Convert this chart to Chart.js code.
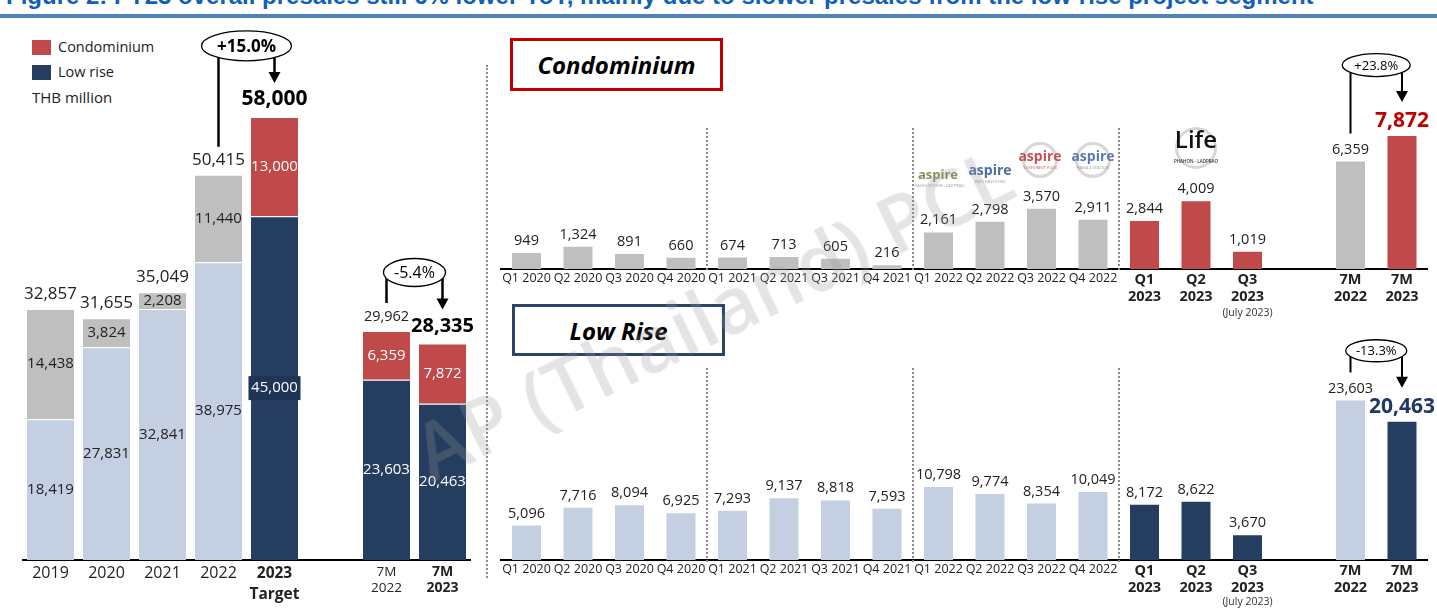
<!DOCTYPE html>
<html>
<head>
<meta charset="utf-8">
<script src="https://cdn.jsdelivr.net/npm/chart.js@4.4.1/dist/chart.umd.min.js"></script>
<style>
  html, body { margin: 0; padding: 0; background: #fff; }
  body { width: 1437px; height: 608px; position: relative; overflow: hidden; font-family: 'Open Sans', sans-serif; color: #222; }
  .abs { position: absolute; }
  #title { left: 6px; top: -16px; font: bold 24px 'Liberation Sans', Arial, sans-serif; line-height: 24px; color: #1160b7; white-space: nowrap; }
  #rule { left: 0; top: 14px; width: 1437px; height: 4px; background: #4f81bd; }
  .sw { left: 32px; width: 19px; height: 15px; }
  .lg { left: 58px; font-size: 14.5px; line-height: 18px; }
  .box { box-sizing: border-box; display: flex; align-items: center; justify-content: center; font-weight: bold; font-style: italic; font-size: 24px; color: #000; background: #fff; }
  #divider { left: 486px; top: 65px; height: 513px; border-left: 2px dotted #8c8c8c; }
  .logo { transform: translate(-50%, -50%); white-space: nowrap; font-weight: bold; text-align: center; }
  .ring { border: 3px solid rgba(140,140,140,0.35); border-radius: 50%; transform: translate(-50%, -50%); }
  #watermark { left: 712px; top: 312px; transform: translate(-50%, -50%) rotate(-26deg); font-size: 78px; font-weight: 600; color: rgba(150,150,150,0.26); white-space: nowrap; pointer-events: none; }
</style>
</head>
<body>
<div id="title" class="abs">Figure 2: FY23 overall presales still 6% lower YoY, mainly due to slower presales from the low-rise project segment</div>
<div id="rule" class="abs"></div>

<div class="abs sw" style="top:40px;background:#c0494a"></div>
<div class="abs lg" style="top:38px">Condominium</div>
<div class="abs sw" style="top:65px;background:#253d5e"></div>
<div class="abs lg" style="top:63px">Low rise</div>
<div class="abs" style="left:32px;top:87px;font-size:15px;line-height:20px">THB million</div>

<canvas id="yearChart" class="abs" style="left:0;top:20px" width="480" height="588"></canvas>
<div id="divider" class="abs"></div>
<canvas id="condoChart" class="abs" style="left:490px;top:30px" width="947" height="290"></canvas>
<canvas id="lowRiseChart" class="abs" style="left:490px;top:300px" width="947" height="308"></canvas>

<div class="abs box" style="left:510px;top:38px;width:213px;height:53px;border:3px solid #c00000">Condominium</div>
<div class="abs box" style="left:512px;top:304px;width:213px;height:52px;border:3px solid #2b4468">Low Rise</div>

<div class="abs logo" style="left:938px;top:176px;font-size:13px;color:#8b8c5e">aspire<div style="font-size:4px;color:#999;font-weight:normal">PHAHOLYOTHIN - LADPRAO</div></div>
<div class="abs logo" style="left:990px;top:172px;font-size:14px;color:#4a6da7">aspire<div style="font-size:4px;color:#999;font-weight:normal">RATCHAYOTHIN</div></div>
<div class="abs ring" style="left:1040px;top:160px;width:30px;height:30px"></div>
<div class="abs logo" style="left:1040px;top:158px;font-size:14px;color:#c9504f">aspire<div style="font-size:4px;color:#c9504f;font-weight:normal">SUKHUMVIT PLUS</div></div>
<div class="abs ring" style="left:1093px;top:160px;width:30px;height:30px"></div>
<div class="abs logo" style="left:1093px;top:158px;font-size:14px;color:#5b7bb0">aspire<div style="font-size:4px;color:#999;font-weight:normal">RAMA 4 STATION</div></div>
<div class="abs ring" style="left:1196px;top:148px;width:36px;height:36px"></div>
<div class="abs logo" style="left:1196px;top:150px;font-size:24px;color:#111;font-weight:600;line-height:22px">Life<div style="font-size:4.5px;color:#333">PHAHON - LADPRAO</div></div>

<div id="watermark" class="abs">AP (Thailand) PCL</div>

<script>
(function() {
  'use strict';

  // yearly presales, THB million
  var yearLabels = ['2019', '2020', '2021', '2022', ['2023', 'Target'], '', ['7M', '2022'], ['7M', '2023']];
  var yearLowRise = [18419, 27831, 32841, 38975, 45000, null, 23603, 20463];
  var yearCondo = [14438, 3824, 2208, 11440, 13000, null, 6359, 7872];
  var yearTotal = [32857, 31655, 35049, 50415, 58000, null, 29962, 28335];

  // quarterly presales, THB million
  var quarterLabels = ['Q1 2020', 'Q2 2020', 'Q3 2020', 'Q4 2020', 'Q1 2021', 'Q2 2021', 'Q3 2021', 'Q4 2021',
    'Q1 2022', 'Q2 2022', 'Q3 2022', 'Q4 2022', ['Q1', '2023'], ['Q2', '2023'], ['Q3', '2023'], '', ['7M', '2022'], ['7M', '2023']];
  var quarterCondo = [949, 1324, 891, 660, 674, 713, 605, 216, 2161, 2798, 3570, 2911, 2844, 4009, 1019, null, 6359, 7872];
  var quarterLowRise = [5096, 7716, 8094, 6925, 7293, 9137, 8818, 7593, 10798, 9774, 8354, 10049, 8172, 8622, 3670, null, 23603, 20463];

  var growthText = ['+15.0%', '-5.4%', '+23.8%', '-13.3%'];

  var LIGHT = '#c4cfe2', GRAY = '#bfbfbf', NAVY = '#253d5e', RED = '#c0494a';
  var FONT = "'Open Sans', sans-serif";

  function fmt(n) { return n.toLocaleString('en-US'); }

  function text(ctx, s, x, y, font, color, base) {
    ctx.font = font;
    ctx.fillStyle = color;
    ctx.textAlign = 'center';
    ctx.textBaseline = base || 'middle';
    ctx.fillText(s, x, y);
  }

  function bracket(ctx, xa, topA, xb, topB, label, st) {
    var endA = topA - 28, tip = topB - 34, cy = tip - 37, cx = (xa + xb) / 2;
    ctx.save();
    ctx.strokeStyle = '#000';
    ctx.fillStyle = '#000';
    ctx.lineWidth = st.lw;
    ctx.beginPath();
    ctx.moveTo(xa, cy); ctx.lineTo(xa, endA);
    ctx.moveTo(xb, cy); ctx.lineTo(xb, tip - 9);
    ctx.stroke();
    ctx.beginPath();
    ctx.moveTo(xb - 6, tip - 11); ctx.lineTo(xb + 6, tip - 11); ctx.lineTo(xb, tip);
    ctx.closePath(); ctx.fill();
    ctx.beginPath();
    ctx.ellipse(cx, cy, st.rx, st.ry, 0, 0, Math.PI * 2);
    ctx.fillStyle = '#fff'; ctx.fill();
    ctx.lineWidth = 1.3; ctx.stroke();
    text(ctx, label, cx, cy + 1, st.font, '#000');
    ctx.restore();
  }

  function xAxis(height, padding, fontFn) {
    return {
      stacked: true,
      grid: { display: false, drawTicks: false },
      border: { display: true, color: '#000', width: 2 },
      ticks: { autoSkip: false, maxRotation: 0, padding: padding, color: '#222', font: fontFn },
      afterFit: function(s) { s.height = height; }
    };
  }

  // ---- yearly stacked chart ----
  var yearPlugin = {
    id: 'yearLabels',
    afterDatasetsDraw: function(chart) {
      var ctx = chart.ctx;
      var low = chart.getDatasetMeta(0).data, condo = chart.getDatasetMeta(1).data;
      for (var i = 0; i < yearLabels.length; i++) {
        if (yearLowRise[i] == null) continue;
        var past = i < 4;
        var lb = low[i], cb = condo[i];
        var ly = (lb.y + lb.base) / 2, cy = (cb.y + cb.base) / 2;
        if (i === 4) {
          ctx.fillStyle = '#1e3557';
          ctx.fillRect(lb.x - 26, ly - 12, 52, 24);
        }
        text(ctx, fmt(yearLowRise[i]), lb.x, ly, '15px ' + FONT, past ? '#222' : '#fff');
        text(ctx, fmt(yearCondo[i]), cb.x, cy, '15px ' + FONT, past ? '#222' : '#fff');
        var bold = (i === 4 || i === 7);
        var f = bold ? 'bold ' + (i === 4 ? 21 : 20) + 'px ' + FONT : (i === 6 ? '14.5px ' : '17px ') + FONT;
        text(ctx, fmt(yearTotal[i]), cb.x, cb.y - (bold ? 12 : 10), f, bold ? '#000' : '#222', 'alphabetic');
      }
      bracket(ctx, condo[3].x, condo[3].y, condo[4].x, condo[4].y, growthText[0], { lw: 2.5, rx: 45, ry: 15, font: 'bold 17px ' + FONT });
      bracket(ctx, condo[6].x, condo[6].y, condo[7].x, condo[7].y, growthText[1], { lw: 2.5, rx: 31, ry: 14, font: '16px ' + FONT });
    }
  };

  new Chart(document.getElementById('yearChart').getContext('2d'), {
    type: 'bar',
    data: {
      labels: yearLabels,
      datasets: [{
        label: 'Low rise',
        data: yearLowRise,
        backgroundColor: yearLowRise.map(function(v, i) { return i < 4 ? LIGHT : NAVY; }),
        borderColor: '#fff', borderWidth: { top: 1 }
      }, {
        label: 'Condominium',
        data: yearCondo,
        backgroundColor: yearCondo.map(function(v, i) { return i < 4 ? GRAY : RED; }),
        borderColor: '#fff', borderWidth: { top: 1 }
      }]
    },
    options: {
      responsive: false,
      animation: false,
      layout: { padding: { top: 5.2, left: 22.5, right: 9.5, bottom: 0 } },
      datasets: { bar: { barPercentage: 0.84, categoryPercentage: 1 } },
      plugins: { legend: { display: false }, tooltip: { enabled: false } },
      scales: {
        x: xAxis(48, 4, function(c) {
          var i = c.index;
          if (i === 4) return { family: FONT, size: 15.5, weight: 'bold', lineHeight: 1.3 };
          if (i === 7) return { family: FONT, size: 14, weight: 'bold', lineHeight: 1.15 };
          if (i === 6) return { family: FONT, size: 13.5, lineHeight: 1.2 };
          return { family: FONT, size: 16 };
        }),
        y: { stacked: true, display: false, min: 0, max: 70000 }
      }
    },
    plugins: [yearPlugin]
  });

  // ---- quarterly charts ----
  function quarterChart(id, values, pastColor, nowColor, opt) {
    var plugin = {
      id: 'quarterLabels',
      afterDatasetsDraw: function(chart) {
        var ctx = chart.ctx, bars = chart.getDatasetMeta(0).data, xs = chart.scales.x, area = chart.chartArea;
        // dotted year separators
        ctx.save();
        ctx.strokeStyle = '#8a8a8a';
        ctx.lineWidth = 2;
        ctx.setLineDash([2, 2]);
        [4, 8, 12].forEach(function(i) {
          var x = Math.round((xs.getPixelForValue(i - 1) + xs.getPixelForValue(i)) / 2);
          ctx.beginPath();
          ctx.moveTo(x, opt.sepTop);
          ctx.lineTo(x, area.bottom + 2);
          ctx.stroke();
        });
        ctx.restore();
        for (var i = 0; i < values.length; i++) {
          if (values[i] == null) continue;
          var b = bars[i];
          if (i === 17) text(ctx, fmt(values[i]), b.x, b.y - 9, 'bold 21px ' + FONT, opt.boldColor, 'alphabetic');
          else text(ctx, fmt(values[i]), b.x, b.y - 8, '14.5px ' + FONT, '#222', 'alphabetic');
        }
        text(ctx, '(July 2023)', xs.getPixelForValue(14), area.bottom + opt.julyOffset, '10.5px ' + FONT, '#333');
        bracket(ctx, bars[16].x, bars[16].y, bars[17].x, bars[17].y, opt.growth, { lw: 2, rx: opt.rx, ry: opt.ry, font: '13px ' + FONT });
      }
    };
    return new Chart(document.getElementById(id).getContext('2d'), {
      type: 'bar',
      data: {
        labels: quarterLabels,
        datasets: [{
          data: values,
          backgroundColor: values.map(function(v, i) { return (i < 12 || i === 16) ? pastColor : nowColor; })
        }]
      },
      options: {
        responsive: false,
        animation: false,
        layout: { padding: { top: opt.padTop, left: 10.75, right: 9.25, bottom: 0 } },
        datasets: { bar: { barPercentage: 0.563, categoryPercentage: 1 } },
        plugins: { legend: { display: false }, tooltip: { enabled: false } },
        scales: {
          x: xAxis(opt.xHeight, 2, function(c) {
            if (c.index >= 12) return { family: FONT, size: 14.5, weight: 'bold', lineHeight: 1.17 };
            return { family: FONT, size: 12.5 };
          }),
          y: { display: false, min: 0, max: opt.max }
        }
      },
      plugins: [plugin]
    });
  }

  quarterChart('condoChart', quarterCondo, GRAY, RED, {
    max: 12000, padTop: 36.3, xHeight: 51, sepTop: 98, julyOffset: 44,
    boldColor: '#c00000', growth: growthText[2], rx: 34, ry: 11.5
  });
  quarterChart('lowRiseChart', quarterLowRise, LIGHT, NAVY, {
    max: 30000, padTop: 57.3, xHeight: 48, sepTop: 68, julyOffset: 42,
    boldColor: '#1f3864', growth: growthText[3], rx: 30.5, ry: 11
  });
})();
</script>
</body>
</html>
